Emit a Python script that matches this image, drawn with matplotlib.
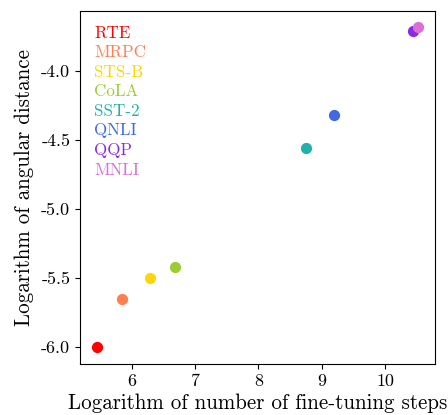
import numpy as np
import matplotlib
matplotlib.use("Agg")
import matplotlib.pyplot as plt

plt.rcParams['font.family'] = 'serif'
plt.rcParams['font.serif'] = ['cmr10']
plt.rcParams['mathtext.fontset'] = 'cm'
plt.rcParams['axes.unicode_minus'] = False

tasks = ["RTE", "MRPC", "STS-B", "CoLA", "SST-2", "QNLI", "QQP", "MNLI"]
log_steps = [5.45, 5.85, 6.29, 6.68, 8.75, 9.19, 10.44, 10.52]
log_dist = [-6.00, -5.65, -5.50, -5.42, -4.56, -4.32, -3.71, -3.68]
colors = ["red", "coral", "gold", "yellowgreen", "lightseagreen",
          "royalblue", "blueviolet", "orchid"]

xticks = [6, 7, 8, 9, 10]
yticks = [-6.0, -5.5, -5.0, -4.5, -4.0]

fig = plt.figure(figsize=(4.48, 4.15), dpi=100)
ax = fig.add_axes([0.1786, 0.1229, 0.7924, 0.8506])

for t, x, y, c in zip(tasks, log_steps, log_dist, colors):
    ax.scatter(x, y, color=c, s=50, label=t, zorder=3)

leg = ax.legend(loc="upper left", frameon=False, handlelength=0,
                handletextpad=0, markerscale=0, fontsize=12.2,
                labelspacing=0.25, borderaxespad=0.45)
for txt, c in zip(leg.get_texts(), colors):
    txt.set_color(c)

ax.set_xlim(5.18, 10.79)
ax.set_ylim(-6.123, -3.565)
ax.set_xticks(xticks)
ax.set_xticklabels([str(v) for v in xticks], fontsize=13)
ax.set_yticks(yticks)
ax.set_yticklabels(["%.1f" % v for v in yticks], fontsize=13)

ax.set_xlabel("Logarithm of number of fine-tuning steps", fontsize=15.1, labelpad=3)
ax.set_ylabel("Logarithm of angular distance", fontsize=15.1, labelpad=5)

plt.savefig("out.png", dpi=100)
